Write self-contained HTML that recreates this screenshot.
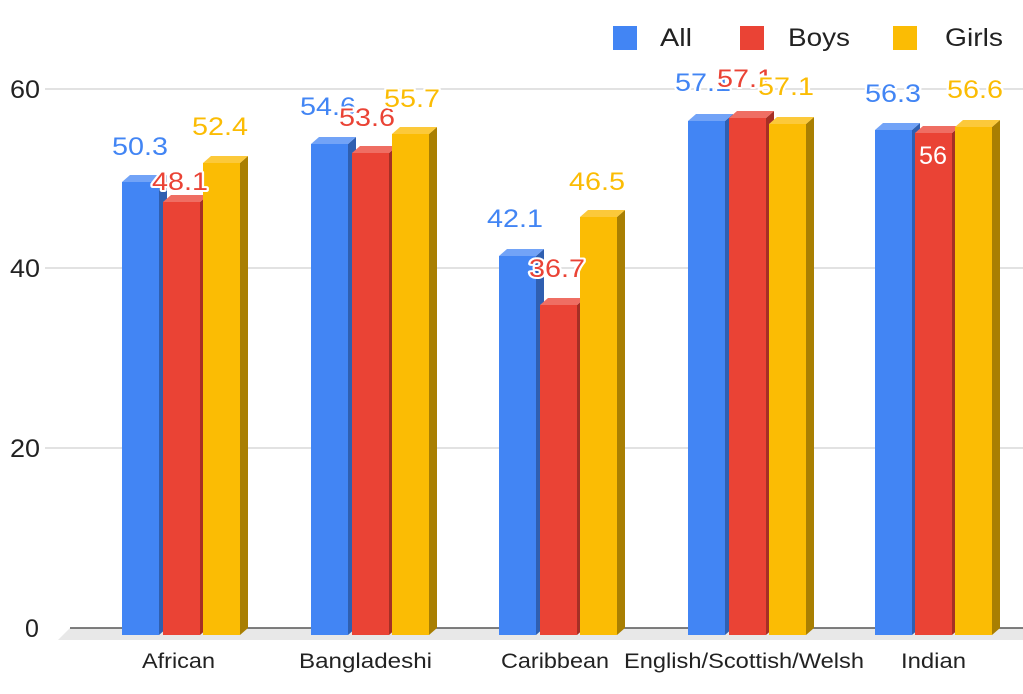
<!DOCTYPE html>
<html><head><meta charset="utf-8"><style>
html,body{margin:0;padding:0;background:#fff;}
svg text{font-family:"Liberation Sans",Arial,sans-serif;}
.lbl{font-size:25px;text-anchor:middle;stroke:#fff;stroke-width:4px;paint-order:stroke;stroke-linejoin:round}
</style></head><body>
<svg id="s" width="1023" height="689" viewBox="0 0 1023 689" xmlns="http://www.w3.org/2000/svg">
<g stroke="#d0d0d0" stroke-width="1.3">
<line x1="45" y1="89" x2="1023" y2="89"/>
<line x1="45" y1="268" x2="1023" y2="268"/>
<line x1="45" y1="448" x2="1023" y2="448"/>
</g>
<polygon points="70,628 1023,628 1023,640 58,640" fill="#e8e8e8"/>
<line x1="70" y1="628" x2="1023" y2="628" stroke="#555" stroke-width="1.5"/>
<g font-size="25" fill="#222">
<text x="10" y="98" textLength="30" lengthAdjust="spacingAndGlyphs">60</text>
<text x="10" y="277" textLength="30" lengthAdjust="spacingAndGlyphs">40</text>
<text x="10" y="457" textLength="30" lengthAdjust="spacingAndGlyphs">20</text>
<text x="25" y="637">0</text>
</g>
<g font-size="21" fill="#222">
<text x="142" y="668" textLength="73" lengthAdjust="spacingAndGlyphs">African</text>
<text x="299" y="668" textLength="133" lengthAdjust="spacingAndGlyphs">Bangladeshi</text>
<text x="501" y="668" textLength="108" lengthAdjust="spacingAndGlyphs">Caribbean</text>
<text x="624" y="668" textLength="240" lengthAdjust="spacingAndGlyphs">English/Scottish/Welsh</text>
<text x="901" y="668" textLength="65" lengthAdjust="spacingAndGlyphs">Indian</text>
</g>
<rect x="613" y="26" width="24" height="24" fill="#4285f4"/>
<text x="660" y="46" font-size="25" fill="#222" textLength="32" lengthAdjust="spacingAndGlyphs">All</text>
<rect x="740" y="26" width="24" height="24" fill="#ea4335"/>
<text x="788" y="46" font-size="25" fill="#222" textLength="62" lengthAdjust="spacingAndGlyphs">Boys</text>
<rect x="893" y="26" width="24" height="24" fill="#fbbc04"/>
<text x="945" y="46" font-size="25" fill="#222" textLength="58" lengthAdjust="spacingAndGlyphs">Girls</text>
<g id="bars"></g>
<g id="labels"></g>
</svg>
<script>
var C=[["#4285f4","#2f5fb0","#72a3f7"],["#ea4335","#a52f25","#ef6e63"],["#fbbc04","#a97f02","#fcc93a"]];
var X=[[122,163,203],[311,352,392],[499,540,580],[688,729,769],[875,915,955]];
var T=[[182,202,163],[144,153,134],[256,305,217],[121,118,124],[130,133,127]];
var g=document.getElementById('bars'),h='';
for(var i=0;i<5;i++)for(var j=0;j<3;j++){var x=X[i][j],y=T[i][j],c=C[j];
h+='<polygon points="'+(x+37)+','+y+' '+(x+45)+','+(y-7)+' '+(x+45)+',628 '+(x+37)+',635" fill="'+c[1]+'"/>';
h+='<polygon points="'+x+','+y+' '+(x+8)+','+(y-7)+' '+(x+45)+','+(y-7)+' '+(x+37)+','+y+'" fill="'+c[2]+'"/>';
h+='<rect x="'+x+'" y="'+y+'" width="37" height="'+(635-y)+'" fill="'+c[0]+'"/>';}
g.innerHTML=h;
var L=[[140,155,"50.3",0],[180,190,"48.1",1],[220,135,"52.4",2],
[328,115,"54.6",0],[367,126,"53.6",1],[412,107,"55.7",2],
[515,227,"42.1",0],[557,277,"36.7",1],[597,190,"46.5",2],
[703,91,"57.1",0],[745,87,"57.1",1],[786,95,"57.1",2],
[893,102,"56.3",0],[975,98,"56.6",2]];
var s='';L.forEach(function(l){s+='<text class="lbl" x="'+l[0]+'" y="'+l[1]+'" fill="'+C[l[3]][0]+'" textLength="56" lengthAdjust="spacingAndGlyphs">'+l[2]+'</text>';});
s+='<text x="933" y="164" font-size="25" text-anchor="middle" fill="#fff" textLength="28" lengthAdjust="spacingAndGlyphs">56</text>';
document.getElementById('labels').innerHTML=s;
</script>
</body></html>
